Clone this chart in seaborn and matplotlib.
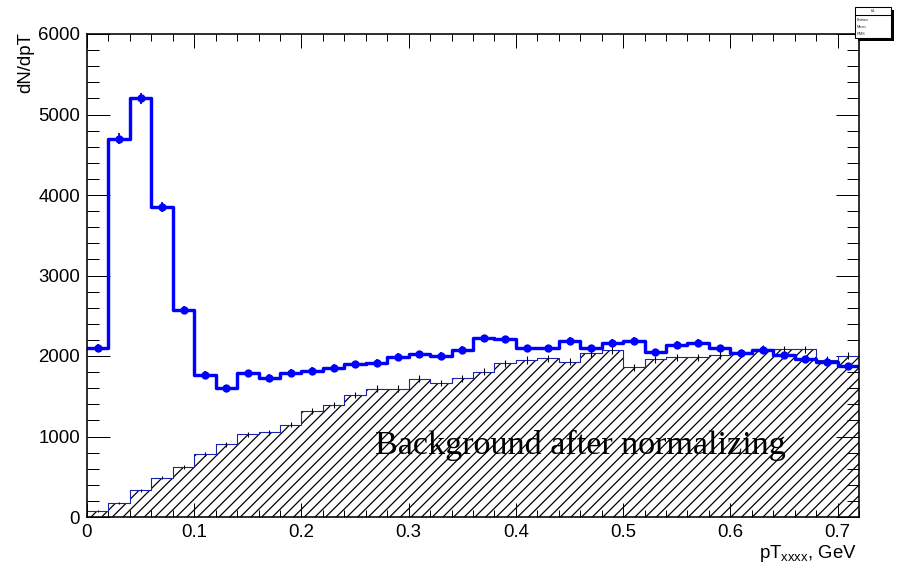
import numpy as np
import pandas as pd
import matplotlib
matplotlib.use("Agg")
import matplotlib.pyplot as plt
from matplotlib.patches import Rectangle
from matplotlib.ticker import MultipleLocator, FuncFormatter
import seaborn as sns

# ---------------- data ----------------
x_range = [0.0, 0.72]
n_bins = 36
signal_counts = [2100, 4700, 5200, 3850, 2570, 1770, 1605, 1790, 1730, 1795,
                 1815, 1855, 1895, 1915, 1990, 2020, 2000, 2075, 2220, 2205,
                 2095, 2095, 2185, 2095, 2160, 2190, 2045, 2135, 2160, 2095,
                 2035, 2075, 2010, 1960, 1930, 1870]
signal_errors = [46, 69, 72, 62, 51, 42, 40, 42, 42, 42,
                 43, 43, 44, 44, 45, 45, 45, 46, 47, 47,
                 46, 46, 47, 46, 46, 47, 45, 46, 46, 46,
                 45, 46, 45, 44, 44, 43]
background_counts = [75, 170, 330, 490, 620, 783, 902, 1025, 1054, 1148,
                     1317, 1395, 1513, 1596, 1596, 1718, 1664, 1721, 1804, 1912,
                     1950, 1971, 1929, 2033, 2075, 1862, 1958, 1983, 1983, 2012,
                     2046, 2090, 2083, 2083, 1950, 2005]
background_errors = [9, 13, 18, 22, 25, 28, 30, 32, 32, 34,
                     36, 37, 39, 40, 40, 41, 41, 41, 42, 44,
                     44, 44, 44, 45, 46, 43, 44, 45, 45, 45,
                     45, 46, 46, 46, 44, 45]
x_ticks = [0.0, 0.1, 0.2, 0.3, 0.4, 0.5, 0.6, 0.7]
y_ticks = [0, 1000, 2000, 3000, 4000, 5000, 6000]
y_label = "dN/dpT"
x_label = r"pT$_{\mathregular{xxxx}}$, GeV"
annotation = "Background after normalizing"

# ---------------- figure ----------------
W, H, DPI = 898, 564, 128
PX = DPI / 72.0  # pixels per point

sns.set_theme(style="ticks")
plt.rcParams["font.family"] = ["Liberation Sans", "DejaVu Sans"]
plt.rcParams["hatch.linewidth"] = 0.7
plt.rcParams["hatch.color"] = "black"

fig = plt.figure(figsize=(W / DPI, H / DPI), dpi=DPI)
fig.patch.set_facecolor("white")
L, R, T, B = 87, 859, 34, 517
ax = fig.add_axes([L / W, (H - B) / H, (R - L) / W, (B - T) / H])
ax.set_facecolor("white")

edges = [float(e) for e in np.linspace(x_range[0], x_range[1], n_bins + 1)]
centers = [0.5 * (a + b) for a, b in zip(edges[:-1], edges[1:])]
df = pd.DataFrame({"pt": centers, "sig": signal_counts, "sig_err": signal_errors,
                   "bkg": background_counts, "bkg_err": background_errors})

# background: hatched fill + thin outline
sns.histplot(data=df, x="pt", weights="bkg", bins=edges, element="step", fill=True,
             color="black", facecolor="none", edgecolor="black", linewidth=0,
             hatch="////", ax=ax)
sns.histplot(data=df, x="pt", weights="bkg", bins=edges, element="step", fill=False,
             color="#1a22b0", linewidth=1.1 / PX, ax=ax)
ax.errorbar(df["pt"], df["bkg"], yerr=df["bkg_err"], fmt="none", ecolor="black",
            elinewidth=0.6, capsize=0, zorder=3)

# signal+background: thick blue step + markers with error bars
sns.histplot(data=df, x="pt", weights="sig", bins=edges, element="step", fill=False,
             color="#0000ff", linewidth=3.4 / PX, ax=ax)
ax.errorbar(df["pt"], df["sig"], yerr=df["sig_err"], fmt="o", color="#0000ff",
            markersize=6.5 / PX, elinewidth=1.8 / PX, capsize=0, zorder=5)

ax.set_xlim(*x_range)
ax.set_ylim(0, 6000)
ax.set_xlabel("")
ax.set_ylabel("")

ax.set_xticks(x_ticks)
ax.set_yticks(y_ticks)
ax.xaxis.set_minor_locator(MultipleLocator(0.02))
ax.yaxis.set_minor_locator(MultipleLocator(200))
ax.xaxis.set_major_formatter(FuncFormatter(lambda v, p: "0" if abs(v) < 1e-9 else f"{v:.1f}"))
ax.yaxis.set_major_formatter(FuncFormatter(lambda v, p: f"{int(round(v))}"))

ax.tick_params(which="both", direction="in", top=True, right=True,
               width=1.0 / PX, color="black", labelsize=10.5, labelcolor="black")
ax.tick_params(axis="x", which="major", length=14 / PX, pad=7 / PX)
ax.tick_params(axis="x", which="minor", length=7 / PX)
ax.tick_params(axis="y", which="major", length=23 / PX, pad=7 / PX)
ax.tick_params(axis="y", which="minor", length=12 / PX)
for s in ax.spines.values():
    s.set_visible(True)
    s.set_color("black")
    s.set_linewidth(1.6 / PX)

# annotation
ax.text(0.269, 787, annotation, family=["Liberation Serif", "DejaVu Serif"],
        fontsize=19.2, color="black", ha="left", va="baseline", zorder=6)

# axis titles (ROOT-like placement)
fig.text(26 / W, 1 - 32 / H, y_label, rotation=90, ha="center", va="top",
         fontsize=10.5, color="black")
fig.text(857 / W, 1 - 558 / H, x_label, ha="right", va="baseline",
         fontsize=10.5, color="black")

# small ROOT statistics box at top right
def fx(px):
    return px / W

def fy(py):
    return 1 - py / H

fig.add_artist(Rectangle((fx(858), fy(41)), fx(894) - fx(858), fy(10) - fy(41),
                         transform=fig.transFigure, facecolor="black",
                         edgecolor="none", zorder=10))
fig.add_artist(Rectangle((fx(855), fy(38)), fx(891) - fx(855), fy(7) - fy(38),
                         transform=fig.transFigure, facecolor="white",
                         edgecolor="black", linewidth=0.6, zorder=11))
fig.add_artist(plt.Line2D([fx(855), fx(891)], [fy(15), fy(15)],
                          transform=fig.transFigure, color="black",
                          linewidth=0.6, zorder=12))
fig.text(fx(873), fy(11), "h1", fontsize=2.4, ha="center", va="center", zorder=13)
for i, name in enumerate(["Entries", "Mean", "RMS"]):
    fig.text(fx(857), fy(20 + 7 * i), name, fontsize=2.2, ha="left",
             va="center", zorder=13)

fig.savefig("out.png", dpi=DPI, facecolor="white")
